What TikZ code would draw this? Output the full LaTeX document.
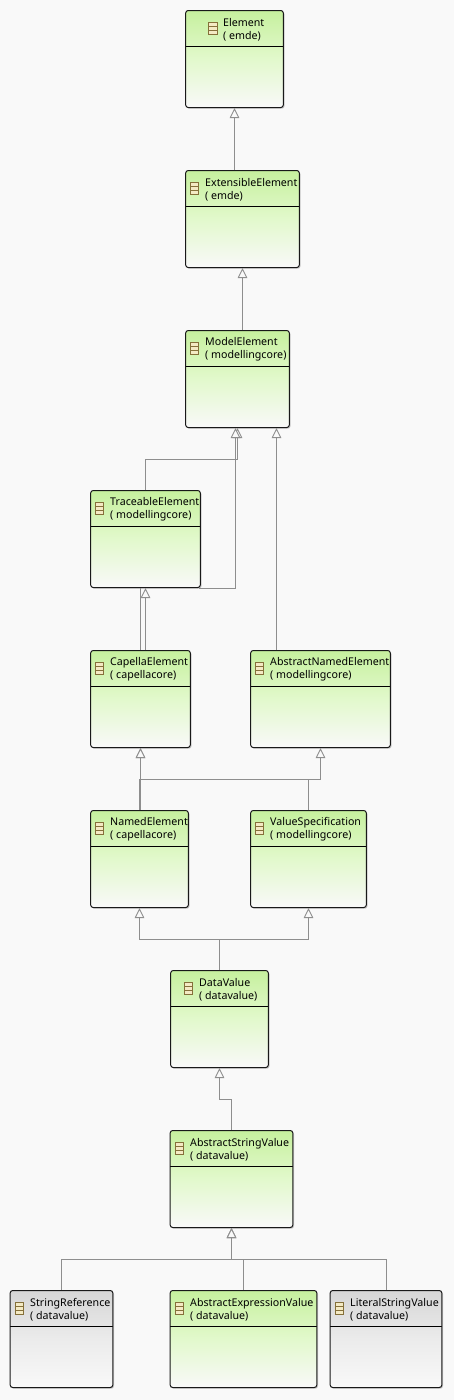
\documentclass[tikz,border=0pt]{standalone}
\usepackage{fontspec}
\setmainfont{Noto Sans}
\usetikzlibrary{arrows.meta,shadows}
\definecolor{PageGrey}{HTML}{F9F9F9}
\definecolor{LineGrey}{HTML}{8E8E8E}
\definecolor{GreenTop}{HTML}{C6F09E}
\definecolor{GreenMid}{HTML}{E2F9CC}
\definecolor{GreyTop}{HTML}{D6D6D6}
\definecolor{GreyMid}{HTML}{EBEBEB}
\definecolor{IconEdge}{HTML}{85703A}
\definecolor{IconFill}{HTML}{F4EAC4}
\begin{document}
\begin{tikzpicture}[x=1pt,y=-1pt]
	\tikzset{
		ClassBox/.style={rectangle, draw=black!90, line width=1pt, rounded corners=2.5pt, minimum height=97pt, inner sep=0pt,
			drop shadow={shadow xshift=1.2pt, shadow yshift=-1.2pt, fill=black, opacity=0.2},
			path picture={\draw[black, line width=1pt] ([yshift=-36pt]path picture bounding box.north west) -- ([yshift=-36pt]path picture bounding box.north east);}},
		GreenBox/.style={ClassBox, top color=GreenTop, bottom color=PageGrey, middle color=GreenMid},
		GreyBox/.style={ClassBox, top color=GreyTop, bottom color=PageGrey, middle color=GreyMid},
		ClassText/.style={anchor=west, inner sep=0pt, align=left, font=\fontsize{10.65}{13}\selectfont, text=black},
		ClassIcon/.style={rectangle, draw=IconEdge, fill=IconFill, line width=0.8pt, minimum width=8.5pt, minimum height=12.5pt, inner sep=0pt,
			path picture={\draw[IconEdge, line width=0.8pt] ([yshift=-4.2pt]path picture bounding box.north west) -- ([yshift=-4.2pt]path picture bounding box.north east) ([yshift=4.2pt]path picture bounding box.south west) -- ([yshift=4.2pt]path picture bounding box.south east);}},
		Inherit/.style={draw=LineGrey, line width=1.15pt, -{Triangle[open, fill=PageGrey, length=10pt, width=9.5pt, line width=0.9pt]}},
		Plain/.style={draw=LineGrey, line width=1.15pt}
	}
	\path[fill=PageGrey] (0,0) rectangle (454,1400);
	\useasboundingbox (0,0) rectangle (454,1400);

	\node (Element) at (234.5,59) [GreenBox, minimum width=97.6pt] {};
	\node (ElementIcon) at (213,28.5) [ClassIcon] {};
	\node (ElementText) at (223,29.5) [ClassText] {Element\\( emde)};

	\node (Extensible) at (242.5,219) [GreenBox, minimum width=113.6pt] {};
	\node (ExtensibleIcon) at (194.5,188.5) [ClassIcon] {};
	\node (ExtensibleText) at (205,189.5) [ClassText] {ExtensibleElement\\( emde)};

	\node (Model) at (237.5,379) [GreenBox, minimum width=103.6pt] {};
	\node (ModelIcon) at (194.5,348.5) [ClassIcon] {};
	\node (ModelText) at (205,349.5) [ClassText] {ModelElement\\( modellingcore)};

	\node (Traceable) at (145.5,539) [GreenBox, minimum width=109.6pt] {};
	\node (TraceableIcon) at (99.5,508.5) [ClassIcon] {};
	\node (TraceableText) at (110,509.5) [ClassText] {TraceableElement\\( modellingcore)};

	\node (Capella) at (140.5,699) [GreenBox, minimum width=99.6pt] {};
	\node (CapellaIcon) at (99.5,668.5) [ClassIcon] {};
	\node (CapellaText) at (110,669.5) [ClassText] {CapellaElement\\( capellacore)};

	\node (AbstractNamed) at (320.5,699) [GreenBox, minimum width=139.6pt] {};
	\node (AbstractNamedIcon) at (259.5,668.5) [ClassIcon] {};
	\node (AbstractNamedText) at (270,669.5) [ClassText] {AbstractNamedElement\\( modellingcore)};

	\node (Named) at (139.5,859) [GreenBox, minimum width=97.6pt] {};
	\node (NamedIcon) at (99.5,828.5) [ClassIcon] {};
	\node (NamedText) at (110,829.5) [ClassText] {NamedElement\\( capellacore)};

	\node (ValueSpec) at (308.5,859) [GreenBox, minimum width=115.6pt] {};
	\node (ValueSpecIcon) at (259.5,828.5) [ClassIcon] {};
	\node (ValueSpecText) at (270,829.5) [ClassText] {ValueSpecification\\( modellingcore)};

	\node (DataValue) at (219.5,1019) [GreenBox, minimum width=97.6pt] {};
	\node (DataValueIcon) at (188.5,988.5) [ClassIcon] {};
	\node (DataValueText) at (199,989.5) [ClassText] {DataValue\\( datavalue)};

	\node (AbstractString) at (231.5,1179) [GreenBox, minimum width=122.6pt] {};
	\node (AbstractStringIcon) at (179.5,1148.5) [ClassIcon] {};
	\node (AbstractStringText) at (190,1149.5) [ClassText] {AbstractStringValue\\( datavalue)};

	\node (StringRef) at (61.5,1339) [GreyBox, minimum width=102.6pt] {};
	\node (StringRefIcon) at (19.5,1308.5) [ClassIcon] {};
	\node (StringRefText) at (30,1309.5) [ClassText] {StringReference\\( datavalue)};

	\node (AbstractExpr) at (243.5,1339) [GreenBox, minimum width=146.6pt] {};
	\node (AbstractExprIcon) at (179.5,1308.5) [ClassIcon] {};
	\node (AbstractExprText) at (190,1309.5) [ClassText] {AbstractExpressionValue\\( datavalue)};

	\node (Literal) at (386,1339) [GreyBox, minimum width=111.6pt] {};
	\node (LiteralIcon) at (339.5,1308.5) [ClassIcon] {};
	\node (LiteralText) at (350,1309.5) [ClassText] {LiteralStringValue\\( datavalue)};

	% bends of the connectors
	\coordinate (TraceBendA) at (237.5,459.5);
	\coordinate (TraceBendB) at (235.5,588.5);
	\coordinate (RowBend) at (139.5,779.5);
	\coordinate (DataBend) at (219.5,939.5);
	\coordinate (StringBend) at (231.5,1099.5);
	\coordinate (LeafBend) at (231.5,1259.5);

	\draw[Inherit] (Extensible.north -| Element.south) -- (Element.south);
	\draw[Inherit] (Model.north -| Extensible.south) -- (Extensible.south);
	\draw[Inherit] (Traceable.north) |- (TraceBendA) -- (TraceBendA |- Model.south);
	\draw[Inherit] ([xshift=-2pt]Traceable.south east |- TraceBendB) -- (TraceBendB) -- (TraceBendB |- Model.south);
	\draw[Inherit] ([xshift=-44pt]AbstractNamed.north) -- ([xshift=-44pt]AbstractNamed.north |- Model.south);
	\draw[Inherit] (Capella.north -| Traceable.south) -- (Traceable.south);
	\draw[Plain] (Capella.north) -- (Capella.north |- Traceable.south);
	\draw[Inherit] (Named.north -| Capella.south) -- (Capella.south);
	\draw[Inherit] (Named.north) -- (RowBend) -| (AbstractNamed.south);
	\draw[Inherit] (ValueSpec.north) |- (RowBend) -| (Capella.south);
	\draw[Inherit] (DataValue.north) -- (DataBend) -| (Named.south);
	\draw[Inherit] (DataValue.north) -- (DataBend) -| (ValueSpec.south);
	\draw[Inherit] (AbstractString.north) |- (StringBend) -| (DataValue.south);
	\draw[Inherit] (StringRef.north) |- (LeafBend) -- (AbstractString.south);
	\draw[Inherit] (AbstractExpr.north) |- (LeafBend) -- (AbstractString.south);
	\draw[Inherit] ([xshift=0.5pt]Literal.north) |- (LeafBend) -- (AbstractString.south);
\end{tikzpicture}
\end{document}
